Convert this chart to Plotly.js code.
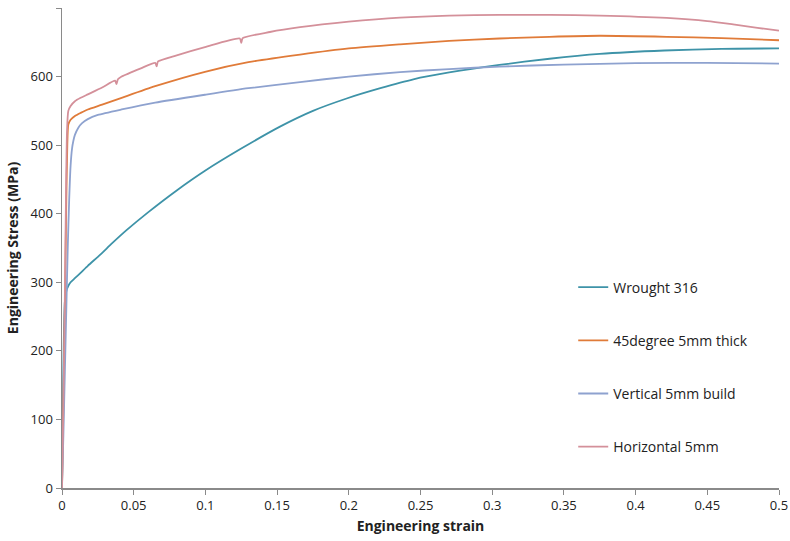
<!DOCTYPE html>
<html>
<head>
<meta charset="utf-8">
<script src="https://cdn.plot.ly/plotly-3.0.1.min.js"></script>
<style>html,body{margin:0;padding:0;background:#fff;}#chart{width:790px;height:541px;}</style>
</head>
<body>
<div id="chart"></div>
<script>
// Wrought 316
const wroughtStrain = [0, 0.0008, 0.0012, 0.0016, 0.002, 0.003, 0.0045, 0.006, 0.009, 0.0126, 0.018, 0.0265, 0.035, 0.045, 0.06, 0.08, 0.1, 0.125, 0.152, 0.175, 0.1985, 0.222, 0.245, 0.27, 0.305, 0.34, 0.375, 0.42, 0.46, 0.5];
const wroughtStress = [0, 150, 210, 250, 272, 287, 295, 300, 306, 313, 324, 340, 357, 376, 402, 434, 463, 495, 527, 550, 568, 583, 596, 606, 617, 626, 633, 638, 640.5, 641];
// 45degree 5mm thick
const deg45Strain = [0, 0.001, 0.002, 0.003, 0.0037, 0.0044, 0.006, 0.009, 0.013, 0.018, 0.028, 0.0416, 0.065, 0.0997, 0.13, 0.166, 0.2, 0.2357, 0.27, 0.305, 0.34, 0.375, 0.4217, 0.46, 0.5];
const deg45Stress = [0, 120, 260, 420, 500, 530, 537, 542.5, 547, 552, 559, 569, 586, 607, 621, 632, 641, 647, 652, 655.5, 658, 659.5, 658, 656, 653];
// Vertical 5mm build
const vertStrain = [0, 0.001, 0.002, 0.003, 0.004, 0.005, 0.006, 0.007, 0.0079, 0.009, 0.0114, 0.014, 0.018, 0.025, 0.0416, 0.065, 0.0997, 0.13, 0.166, 0.2, 0.2357, 0.27, 0.305, 0.35, 0.4, 0.45, 0.5];
const vertStress = [0, 80, 170, 260, 350, 420, 470, 495, 506, 515, 525.5, 532, 538, 544, 552, 562, 573.5, 583, 592, 600, 606.5, 611, 614.5, 617.5, 619.5, 620, 619];
// Horizontal 5mm
const horizStrain = [0, 0.001, 0.002, 0.0028, 0.0035, 0.0044, 0.006, 0.009, 0.013, 0.018, 0.028, 0.037, 0.038, 0.039, 0.0416, 0.055, 0.065, 0.066, 0.067, 0.08, 0.0997, 0.124, 0.125, 0.126, 0.145, 0.166, 0.2, 0.2357, 0.27, 0.305, 0.34, 0.375, 0.4217, 0.45, 0.468, 0.485, 0.5];
const horizStress = [0, 130, 280, 430, 520, 550, 557, 564, 569, 574, 584, 594, 589, 596, 600, 612, 620, 615, 622, 631, 643, 655.5, 649, 656, 665, 672, 680, 686, 689, 690, 690, 689, 685.5, 681, 676, 671, 667];

const seriesNames = ["Wrought 316", "45degree 5mm thick", "Vertical 5mm build", "Horizontal 5mm"];
const xTickVals = [0, 0.05, 0.1, 0.15, 0.2, 0.25, 0.3, 0.35, 0.4, 0.45, 0.5];
const xTickText = ["0", "0.05", "0.1", "0.15", "0.2", "0.25", "0.3", "0.35", "0.4", "0.45", "0.5"];
const yTickVals = [0, 100, 200, 300, 400, 500, 600, 700];

const colors = ["#3e93a8", "#e07b39", "#8ea2cf", "#d4909a"];
const xs = [wroughtStrain, deg45Strain, vertStrain, horizStrain];
const ys = [wroughtStress, deg45Stress, vertStress, horizStress];

const traces = seriesNames.map((n, i) => ({
  type: "scatter", mode: "lines", name: n, x: xs[i], y: ys[i],
  line: {color: colors[i], width: 1.8, shape: "spline", smoothing: 0.6}, legendgroup: "g" + i
}));

const font = "Open Sans, Liberation Sans, sans-serif";
const layout = {
  width: 790, height: 541,
  margin: {l: 62, r: 11, t: 8, b: 53},
  paper_bgcolor: "#fff", plot_bgcolor: "#fff",
  font: {family: font, size: 13, color: "#222"},
  showlegend: true,
  legend: {x: 0.713, y: 0.451, xanchor: "left", yanchor: "top", tracegroupgap: 32,
    itemwidth: 30, font: {size: 14, color: "#222"}, bgcolor: "rgba(0,0,0,0)"},
  xaxis: {range: [0, 0.5], tickvals: xTickVals, ticktext: xTickText, showgrid: false, zeroline: false,
    showline: true, linecolor: "#8a8a8a", linewidth: 1.5, ticks: "outside", ticklen: 5, tickcolor: "#8a8a8a",
    title: {text: "<b>Engineering strain</b>", font: {size: 14, color: "#222"}, standoff: 8}},
  yaxis: {range: [0, 700], tickvals: yTickVals, showgrid: false, zeroline: false,
    showline: true, linecolor: "#8a8a8a", linewidth: 1.5, ticks: "outside", ticklen: 5, tickcolor: "#8a8a8a",
    title: {text: "<b>Engineering Stress (MPa)</b>", font: {size: 14, color: "#222"}, standoff: 8}}
};
Plotly.newPlot("chart", traces, layout, {displayModeBar: false, staticPlot: true});
</script>
</body>
</html>
